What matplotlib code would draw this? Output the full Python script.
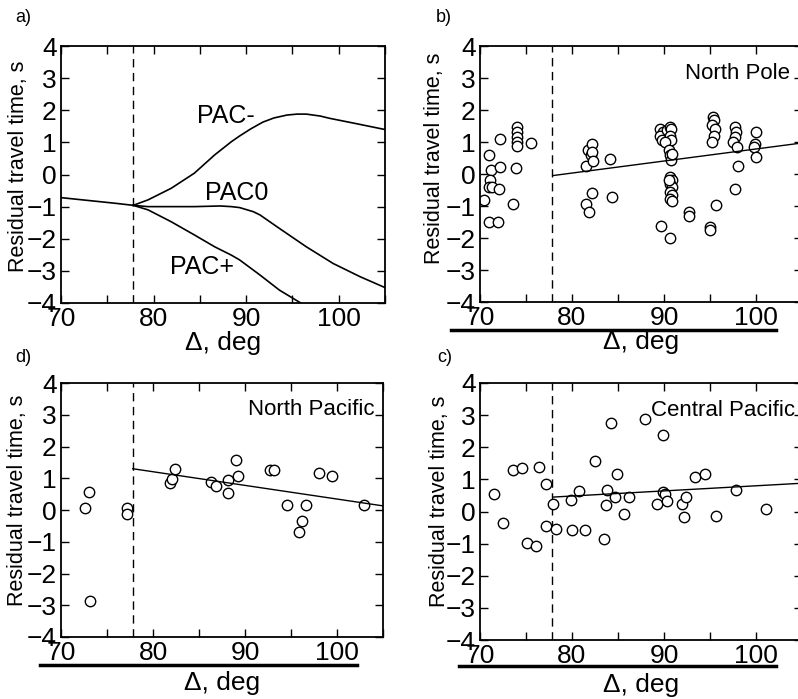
import matplotlib
matplotlib.use("Agg")
import matplotlib.pyplot as plt
from matplotlib.lines import Line2D
from matplotlib.ticker import MultipleLocator

plt.rcParams['font.family'] = ['Liberation Sans', 'DejaVu Sans']

# ---- panel a: model curves ----
common_x = [70.0, 72.0, 74.0, 76.0, 77.8]
common_y = [-0.72, -0.78, -0.84, -0.90, -0.96]

pac_minus_x = [77.8, 79.4, 81.9, 84.4, 86.6, 88.4, 89.3, 90.5, 91.8, 93.0, 94.4, 95.5, 96.5, 98.0, 99.0, 101.6, 105.0]
pac_minus_y = [-0.96, -0.79, -0.43, 0.04, 0.61, 1.02, 1.20, 1.42, 1.63, 1.76, 1.85, 1.88, 1.88, 1.82, 1.75, 1.60, 1.40]

pac0_x = [77.8, 79.4, 84.4, 87.2, 88.4, 89.3, 90.8, 91.5, 93.6, 96.5, 99.4, 102.3, 105.0]
pac0_y = [-0.96, -1.00, -1.00, -0.98, -1.00, -1.03, -1.16, -1.26, -1.68, -2.25, -2.77, -3.18, -3.52]

pac_plus_x = [77.8, 79.4, 81.9, 84.4, 86.6, 88.4, 89.3, 91.5, 93.6, 95.9]
pac_plus_y = [-0.96, -1.10, -1.47, -1.88, -2.25, -2.51, -2.66, -3.13, -3.60, -4.00]

# ---- panel b: North Pole ----
np_x = [70.4, 71.0, 71.2, 71.1, 71.0, 71.3, 71.0, 72.0, 72.1, 72.2, 72.2, 73.6, 73.9,
        74.0, 74.0, 74.0, 74.0, 74.0, 75.5,
        81.5, 81.5, 81.9, 81.7, 82.1, 82.2, 82.2, 82.3, 82.2, 84.1, 84.4,
        89.6, 89.9, 89.6, 89.8, 90.3, 90.6, 90.8, 90.7, 90.8, 90.1, 90.5, 90.6, 90.8, 90.9,
        90.7, 90.9, 90.6, 90.9, 90.7, 90.9, 90.6, 90.9, 90.5,
        89.7, 90.6, 92.7, 92.7, 95.0, 95.0,
        95.3, 95.4, 95.2, 95.5, 95.4, 95.2, 95.7,
        97.7, 97.8, 97.7, 97.5, 97.9, 98.0, 97.7,
        100.0, 99.9, 99.8, 100.0]
np_y = [-0.82, 0.58, 0.11, -0.20, -0.40, -0.40, -1.50, -1.50, -0.46, 0.22, 1.10, -0.93, 0.20,
        1.47, 1.31, 1.16, 1.00, 0.88, 0.98,
        0.24, -0.93, -1.20, 0.74, 0.58, 0.93, 0.69, 0.40, -0.60, 0.48, -0.72,
        1.42, 1.31, 1.20, 1.05, 1.36, 1.47, 1.42, 1.20, 1.05, 1.00, 0.74, 0.58, 0.43, 0.64,
        -0.10, -0.20, -0.30, -0.40, -0.56, -0.67, -0.77, -0.85, -0.20,
        -1.63, -1.99, -1.20, -1.31, -1.66, -1.76,
        1.78, 1.68, 1.52, 1.42, 1.20, 1.00, -0.98,
        1.47, 1.31, 1.16, 1.00, 0.84, 0.25, -0.48,
        1.31, 0.95, 0.84, 0.53]
np_fit_x = [77.9, 105.0]
np_fit_y = [-0.05, 0.97]

# ---- panel d: North Pacific ----
npac_x = [72.6, 73.0, 73.1, 77.2, 77.2, 81.8, 82.1, 82.4, 86.3, 86.8, 88.2, 88.2,
          89.0, 89.2, 92.7, 93.1, 94.6, 95.9, 96.2, 96.6, 98.0, 99.5, 102.9]
npac_y = [0.05, 0.57, -2.88, 0.06, -0.14, 0.85, 0.98, 1.28, 0.88, 0.75, 0.95, 0.55,
          1.56, 1.06, 1.26, 1.26, 0.16, -0.68, -0.36, 0.16, 1.16, 1.06, 0.16]
npac_fit_x = [77.8, 105.0]
npac_fit_y = [1.30, 0.13]

# ---- panel c: Central Pacific ----
cpac_x = [71.5, 72.5, 73.6, 74.6, 75.1, 76.1, 76.4, 77.2, 77.2, 77.9, 78.3, 79.9, 80.0,
          80.8, 81.4, 82.5, 83.5, 83.7, 83.8, 84.2, 84.7, 84.9, 85.7, 86.2, 87.9, 89.2,
          89.9, 89.9, 90.1, 90.3, 92.0, 92.2, 92.4, 93.4, 94.5, 95.7, 97.8, 101.1]
cpac_y = [0.55, -0.36, 1.28, 1.35, -0.97, -1.07, 1.37, 0.86, -0.45, 0.24, -0.55, 0.36, -0.57,
          0.65, -0.57, 1.56, -0.86, 0.21, 0.68, 2.77, 0.45, 1.16, -0.07, 0.44, 2.89, 0.24,
          2.39, 0.60, 0.53, 0.34, 0.24, -0.16, 0.44, 1.06, 1.17, -0.14, 0.68, 0.07]
cpac_fit_x = [78.0, 105.0]
cpac_fit_y = [0.45, 0.88]

cusp = 77.8
W, H = 798, 699

fig = plt.figure(figsize=(W / 100, H / 100), dpi=100)


def make_axes(left, top, right, bottom):
    return fig.add_axes([left / W, 1 - bottom / H, (right - left) / W, (bottom - top) / H])


def style(ax, ylab_x, ylab_y, xlab_y):
    ax.set_xlim(70, 105)
    ax.set_ylim(-4, 4)
    ax.xaxis.set_major_locator(MultipleLocator(10))
    ax.xaxis.set_minor_locator(MultipleLocator(5))
    ax.yaxis.set_major_locator(MultipleLocator(1))
    ax.tick_params(which='both', direction='in', top=True, right=True,
                   length=6, width=1, labelsize=19, pad=3)
    ax.tick_params(axis='x', pad=3)
    for s in ax.spines.values():
        s.set_linewidth(1.3)
    ax.set_ylabel("Residual travel time, s", fontsize=15.5)
    ax.yaxis.set_label_coords(ylab_x, ylab_y)
    ax.set_xlabel("Δ, deg", fontsize=19)
    ax.xaxis.set_label_coords(0.5, xlab_y)
    ax.axvline(cusp, color='k', ls=(0, (6, 4)), lw=1)


ax_a = make_axes(61, 46, 385, 303)
ax_b = make_axes(480, 46, 802, 302)
ax_d = make_axes(61, 383, 383, 637)
ax_c = make_axes(480, 383, 802, 640)

style(ax_a, -0.099, 0.53, -0.11)
style(ax_b, -0.109, 0.56, -0.11)
style(ax_d, -0.102, 0.54, -0.135)
style(ax_c, -0.093, 0.54, -0.13)

# panel a
ax_a.plot(common_x, common_y, color='k', lw=1.2)
ax_a.plot(pac_minus_x, pac_minus_y, color='k', lw=1.2)
ax_a.plot(pac0_x, pac0_y, color='k', lw=1.2)
ax_a.plot(pac_plus_x, pac_plus_y, color='k', lw=1.2)
ax_a.text(87.8, 1.82, "PAC-", fontsize=18, ha='center', va='center')
ax_a.text(89.0, -0.58, "PAC0", fontsize=18, ha='center', va='center')
ax_a.text(85.2, -2.88, "PAC+", fontsize=18, ha='center', va='center')

mk = dict(ls='none', marker='o', ms=7.5, mfc='white', mec='k', mew=1)

ax_b.plot(np_x, np_y, **mk)
ax_b.plot(np_fit_x, np_fit_y, color='k', lw=1)
ax_b.text(103.7, 3.15, "North Pole", fontsize=16, ha='right', va='center')

ax_d.plot(npac_x, npac_y, **mk)
ax_d.plot(npac_fit_x, npac_fit_y, color='k', lw=1)
ax_d.text(104.1, 3.15, "North Pacific", fontsize=16, ha='right', va='center')

ax_c.plot(cpac_x, cpac_y, **mk)
ax_c.plot(cpac_fit_x, cpac_fit_y, color='k', lw=1)
ax_c.text(104.3, 3.15, "Central Pacific", fontsize=16, ha='right', va='center')

# thick rules under the x tick labels
for x0, x1, y in [(451, 776, 330), (40, 357, 665), (459, 776, 666)]:
    fig.add_artist(Line2D([x0 / W, x1 / W], [1 - y / H, 1 - y / H],
                          transform=fig.transFigure, color='k', lw=2.5))

# panel letters
for lab, x, y in [("a)", 15, 18), ("b)", 436, 18), ("d)", 15, 357), ("c)", 437, 357)]:
    fig.text(x / W, 1 - y / H, lab, fontsize=13, ha='left', va='center')

fig.savefig("out.png", dpi=100, facecolor='white')
